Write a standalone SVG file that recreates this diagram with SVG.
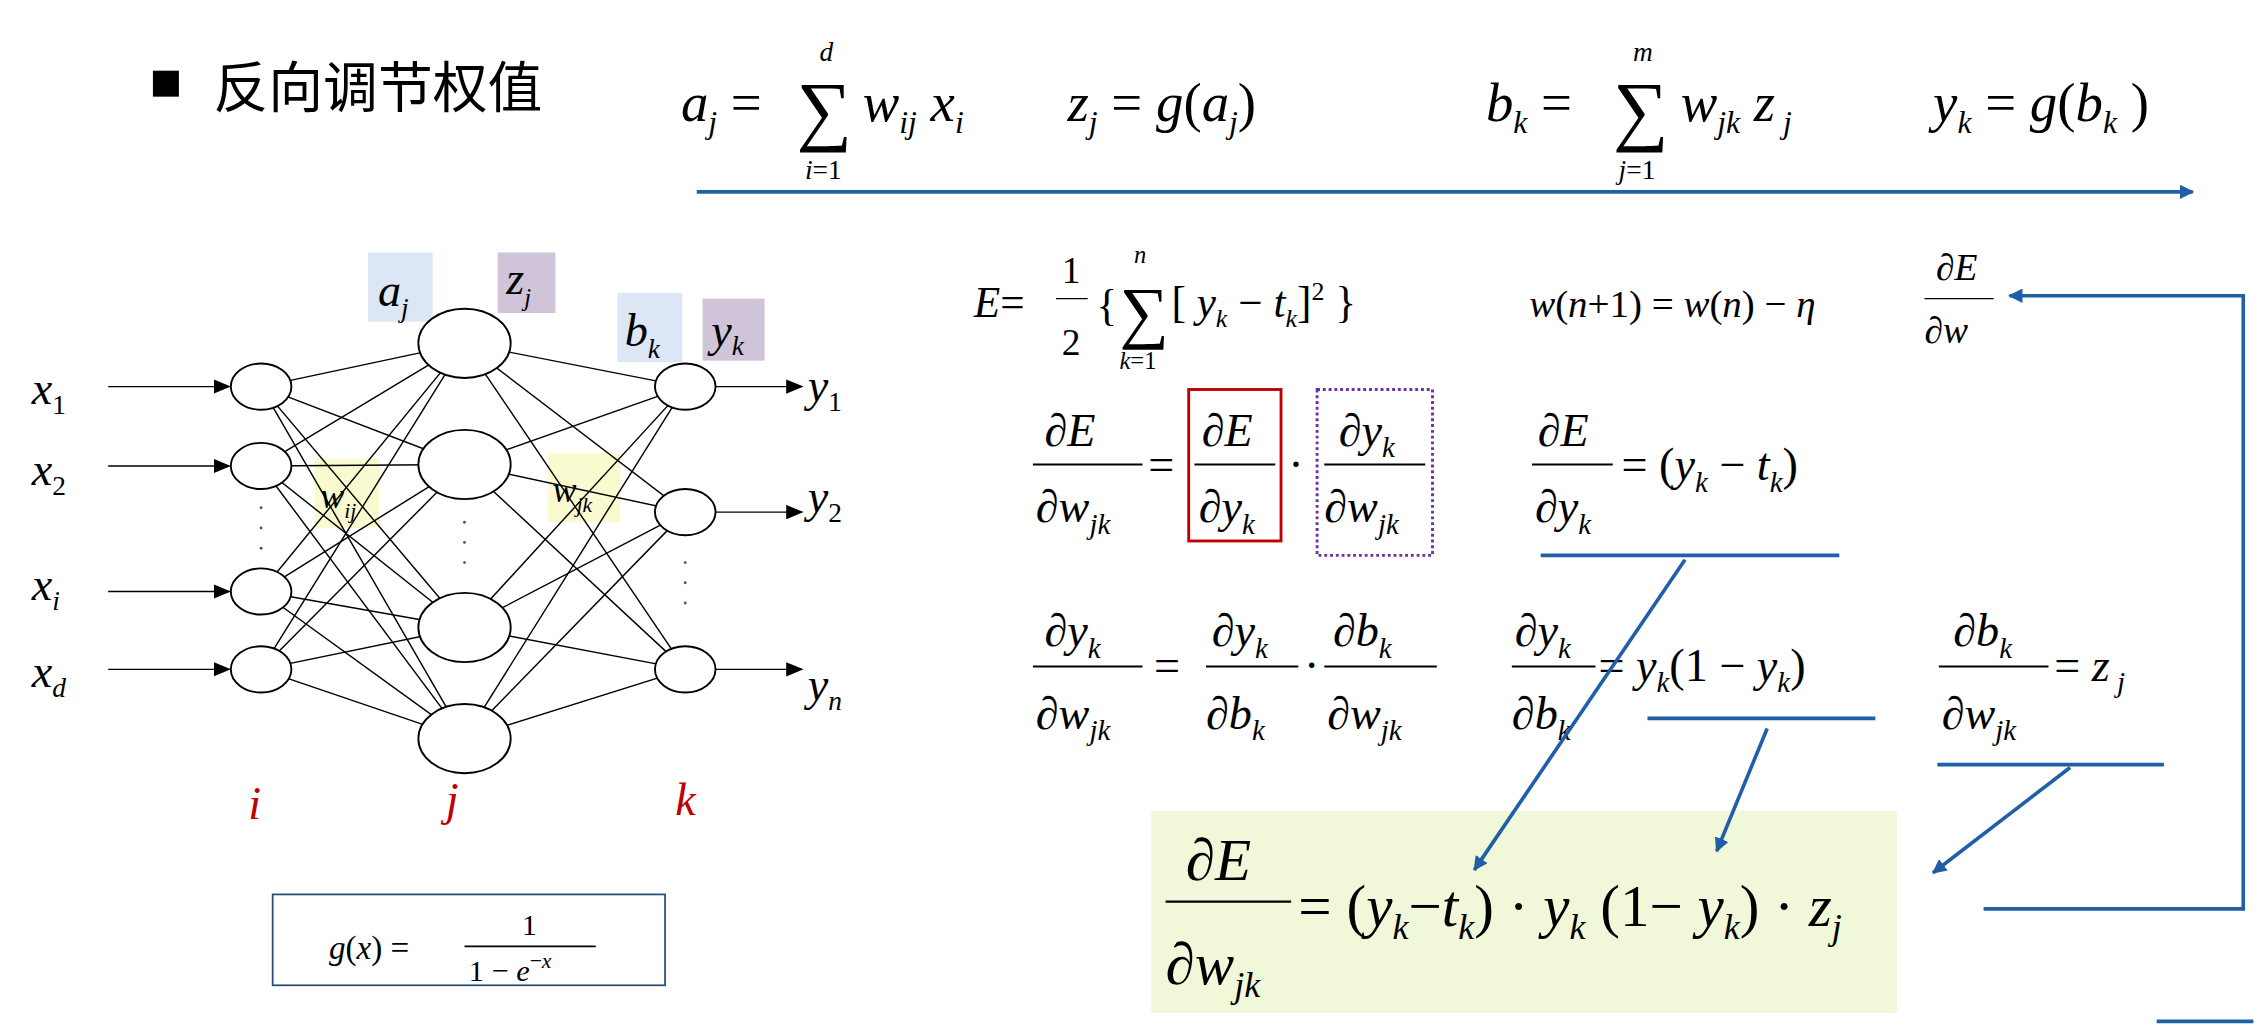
<svg xmlns="http://www.w3.org/2000/svg" width="2262" height="1026" viewBox="0 0 2262 1026">
<style>
.m{font-family:"Liberation Serif","Times New Roman",serif;font-style:italic;fill:#000}
.r{font-family:"Liberation Serif","Times New Roman",serif;font-style:normal;fill:#000}
.bl{stroke:#1f5fa8;stroke-width:2.5;fill:none}
.n{fill:#fff;stroke:#000;stroke-width:1.3}
.e{stroke:#000;stroke-width:1}
</style>
<defs>
<marker id="ab" markerWidth="10" markerHeight="10" refX="9" refY="5" orient="auto" markerUnits="userSpaceOnUse"><path d="M0,0 L10,5 L0,10 z" fill="#1f5fa8"/></marker>
<marker id="ak" markerWidth="12" markerHeight="10" refX="11" refY="5" orient="auto" markerUnits="userSpaceOnUse"><path d="M0,0 L12,5 L0,10 z" fill="#000"/></marker>
</defs>
<rect width="2262" height="1026" fill="#fff"/>
<g transform="scale(1.4426)">
<g id="title"><rect x="106" y="49" width="18" height="18" fill="#000"/><text x="148" y="74" font-size="38" font-family="Noto Sans CJK SC,sans-serif">反向调节权值</text></g>
<g id="top-eq" class="m" font-size="38">
<text x="472" y="84">a<tspan font-size="22" dy="8">j</tspan><tspan dy="-8" class="r"> = </tspan></text>
<text x="552" y="94" class="r" font-size="54">∑</text>
<text x="568" y="42" font-size="19">d</text><text x="558" y="124" font-size="19">i<tspan class="r">=1</tspan></text>
<text x="598" y="84">w<tspan font-size="22" dy="8">ij</tspan><tspan dy="-8"> x</tspan><tspan font-size="22" dy="8">i</tspan></text>
<text x="740" y="84">z<tspan font-size="22" dy="8">j</tspan><tspan dy="-8" class="r"> = </tspan>g<tspan class="r">(</tspan>a<tspan font-size="22" dy="8">j</tspan><tspan dy="-8" class="r">)</tspan></text>
<text x="1030" y="84">b<tspan font-size="22" dy="8">k</tspan><tspan dy="-8" class="r"> = </tspan></text>
<text x="1118" y="94" class="r" font-size="54">∑</text>
<text x="1132" y="42" font-size="19">m</text><text x="1122" y="124" font-size="19">j<tspan class="r">=1</tspan></text>
<text x="1165" y="84">w<tspan font-size="22" dy="8">jk</tspan><tspan dy="-8"> z</tspan><tspan font-size="22" dy="8"> j</tspan></text>
<text x="1340" y="84">y<tspan font-size="22" dy="8">k</tspan><tspan dy="-8" class="r"> = </tspan>g<tspan class="r">(</tspan>b<tspan font-size="22" dy="8">k</tspan><tspan dy="-8" class="r"> )</tspan></text>
</g>
<g id="highlights">
<rect x="255" y="175" width="45" height="48" fill="#dce6f5"/>
<rect x="345" y="175" width="40" height="42" fill="#d0c4d8"/>
<rect x="428" y="203" width="45" height="48" fill="#dce6f5"/>
<rect x="487" y="207" width="43" height="43" fill="#d0c4d8"/>
<rect x="218" y="318" width="45" height="48" fill="#fafad0"/>
<rect x="380" y="314" width="50" height="48" fill="#fafad0"/>
</g>
<g id="edges" class="e">
<g id="e-ij">
<line x1="181" y1="268" x2="322" y2="238"/><line x1="181" y1="268" x2="322" y2="322"/><line x1="181" y1="268" x2="322" y2="435"/><line x1="181" y1="268" x2="322" y2="512"/>
<line x1="181" y1="323" x2="322" y2="238"/><line x1="181" y1="323" x2="322" y2="322"/><line x1="181" y1="323" x2="322" y2="435"/><line x1="181" y1="323" x2="322" y2="512"/>
<line x1="181" y1="410" x2="322" y2="238"/><line x1="181" y1="410" x2="322" y2="322"/><line x1="181" y1="410" x2="322" y2="435"/><line x1="181" y1="410" x2="322" y2="512"/>
<line x1="181" y1="464" x2="322" y2="238"/><line x1="181" y1="464" x2="322" y2="322"/><line x1="181" y1="464" x2="322" y2="435"/><line x1="181" y1="464" x2="322" y2="512"/>
</g>
<g id="e-jk">
<line x1="322" y1="238" x2="475" y2="268"/><line x1="322" y1="238" x2="475" y2="355"/><line x1="322" y1="238" x2="475" y2="464"/>
<line x1="322" y1="322" x2="475" y2="268"/><line x1="322" y1="322" x2="475" y2="355"/><line x1="322" y1="322" x2="475" y2="464"/>
<line x1="322" y1="435" x2="475" y2="268"/><line x1="322" y1="435" x2="475" y2="355"/><line x1="322" y1="435" x2="475" y2="464"/>
<line x1="322" y1="512" x2="475" y2="268"/><line x1="322" y1="512" x2="475" y2="355"/><line x1="322" y1="512" x2="475" y2="464"/>
</g>
<line x1="75" y1="268" x2="159" y2="268" marker-end="url(#ak)"/>
<line x1="75" y1="323" x2="159" y2="323" marker-end="url(#ak)"/>
<line x1="75" y1="410" x2="159" y2="410" marker-end="url(#ak)"/>
<line x1="75" y1="464" x2="159" y2="464" marker-end="url(#ak)"/>
<line x1="496" y1="268" x2="556" y2="268" marker-end="url(#ak)"/>
<line x1="496" y1="355" x2="556" y2="355" marker-end="url(#ak)"/>
<line x1="496" y1="464" x2="556" y2="464" marker-end="url(#ak)"/>
</g>
<g id="nodes">
<g id="ni1"><ellipse cx="181" cy="268" rx="21" ry="16" class="n"/></g>
<g id="ni2"><ellipse cx="181" cy="323" rx="21" ry="16" class="n"/></g>
<g id="ni3"><ellipse cx="181" cy="410" rx="21" ry="16" class="n"/></g>
<g id="ni4"><ellipse cx="181" cy="464" rx="21" ry="16" class="n"/></g>
<g id="nj1"><ellipse cx="322" cy="238" rx="32" ry="24" class="n"/></g>
<g id="nj2"><ellipse cx="322" cy="322" rx="32" ry="24" class="n"/></g>
<g id="nj3"><ellipse cx="322" cy="435" rx="32" ry="24" class="n"/></g>
<g id="nj4"><ellipse cx="322" cy="512" rx="32" ry="24" class="n"/></g>
<g id="nk1"><ellipse cx="475" cy="268" rx="21" ry="16" class="n"/></g>
<g id="nk2"><ellipse cx="475" cy="355" rx="21" ry="16" class="n"/></g>
<g id="nk3"><ellipse cx="475" cy="464" rx="21" ry="16" class="n"/></g>
</g>
<g id="dots" fill="#555"><circle cx="181" cy="352" r="1"/><circle cx="181" cy="366" r="1"/><circle cx="181" cy="380" r="1"/><circle cx="322" cy="362" r="1"/><circle cx="322" cy="376" r="1"/><circle cx="322" cy="390" r="1"/><circle cx="475" cy="390" r="1"/><circle cx="475" cy="404" r="1"/><circle cx="475" cy="418" r="1"/></g>
<g id="netlabels" class="m" font-size="32">
<text x="22" y="280">x<tspan font-size="19" dy="7" class="r">1</tspan></text>
<text x="22" y="336">x<tspan font-size="19" dy="7" class="r">2</tspan></text>
<text x="22" y="416">x<tspan font-size="19" dy="7">i</tspan></text>
<text x="22" y="476">x<tspan font-size="19" dy="7">d</tspan></text>
<text x="560" y="278">y<tspan font-size="19" dy="7" class="r">1</tspan></text>
<text x="560" y="355">y<tspan font-size="19" dy="7" class="r">2</tspan></text>
<text x="560" y="485">y<tspan font-size="19" dy="7">n</tspan></text>
<text x="262" y="212">a<tspan font-size="19" dy="8">j</tspan></text>
<text x="351" y="204">z<tspan font-size="17" dy="8">j</tspan></text>
<text x="433" y="240">b<tspan font-size="19" dy="8">k</tspan></text>
<text x="493" y="240">y<tspan font-size="19" dy="6">k</tspan></text>
<text x="222" y="352" font-size="25">w<tspan font-size="15" dy="7">ij</tspan></text>
<text x="383" y="348" font-size="25">w<tspan font-size="15" dy="7">jk</tspan></text>
<text x="172" y="568" style="fill:#c00000">i</text>
<text x="309" y="565" style="fill:#c00000">j</text>
<text x="468" y="565" style="fill:#c00000">k</text>
</g>
<g id="gbox"><rect x="189" y="620" width="272" height="63" fill="#fff" stroke="#1f4e79" stroke-width="1.2"/>
<text x="228" y="665" font-size="23" class="m">g<tspan class="r">(</tspan>x<tspan class="r">) =</tspan></text>
<line x1="322" y1="656" x2="413" y2="656" stroke="#000" stroke-width="1.2"/>
<text x="367" y="648" font-size="21" class="r" text-anchor="middle">1</text>
<text x="325" y="680" font-size="21" class="r">1 − <tspan class="m">e</tspan><tspan font-size="15" dy="-9">−<tspan font-style="italic">x</tspan></tspan></text>
</g>
<g id="eqE" class="m" font-size="30">
<text x="675" y="220">E<tspan class="r">=</tspan></text>
<text x="736" y="196" class="r" font-size="26">1</text><line x1="732" y1="207" x2="754" y2="207" stroke="#000"/><text x="736" y="246" class="r" font-size="26">2</text>
<text x="760" y="222" class="r">{</text><text x="776" y="232" class="r" font-size="48">∑</text>
<text x="786" y="182" font-size="17">n</text><text x="776" y="256" font-size="17">k<tspan class="r">=1</tspan></text>
<text x="812" y="220"><tspan class="r">[</tspan> y<tspan font-size="18" dy="7">k</tspan><tspan dy="-7" class="r"> − </tspan>t<tspan font-size="18" dy="7">k</tspan><tspan dy="-7" class="r">]</tspan><tspan font-size="18" dy="-12" class="r">2</tspan><tspan dy="12" class="r"> }</tspan></text>
<text x="1060" y="220" font-size="27">w<tspan class="r">(</tspan>n<tspan class="r">+1) = </tspan>w<tspan class="r">(</tspan>n<tspan class="r">) − </tspan>η</text>
<text x="1342" y="194" font-size="26">∂E</text><line x1="1334" y1="207" x2="1382" y2="207" stroke="#000"/><text x="1334" y="238" font-size="26">∂w</text>
</g>
<g id="eq2" class="m" font-size="32">
<text x="724" y="309">∂E</text><line x1="716" y1="322" x2="792" y2="322" stroke="#000" stroke-width="1.3"/><text x="718" y="362">∂w<tspan font-size="20" dy="8">jk</tspan></text>
<text x="796" y="333" class="r">=</text>
<rect x="824" y="270" width="64" height="105" fill="none" stroke="#c00000" stroke-width="2"/>
<text x="833" y="309">∂E</text><line x1="828" y1="322" x2="884" y2="322" stroke="#000" stroke-width="1.3"/><text x="831" y="362">∂y<tspan font-size="20" dy="8">k</tspan></text>
<text x="893" y="333" class="r">·</text>
<rect x="913" y="270" width="80" height="115" fill="none" stroke="#7030a0" stroke-width="2" stroke-dasharray="2,2"/>
<text x="928" y="309">∂y<tspan font-size="20" dy="8">k</tspan></text><line x1="918" y1="322" x2="988" y2="322" stroke="#000" stroke-width="1.3"/><text x="918" y="362">∂w<tspan font-size="20" dy="8">jk</tspan></text>
<text x="1066" y="309">∂E</text><line x1="1062" y1="322" x2="1118" y2="322" stroke="#000" stroke-width="1.3"/><text x="1064" y="362">∂y<tspan font-size="20" dy="8">k</tspan></text>
<text x="1124" y="333"><tspan class="r">= (</tspan>y<tspan font-size="20" dy="8">k</tspan><tspan dy="-8" class="r"> − </tspan>t<tspan font-size="20" dy="8">k</tspan><tspan dy="-8" class="r">)</tspan></text>
</g>
<g id="eq3" class="m" font-size="32">
<text x="724" y="448">∂y<tspan font-size="20" dy="8">k</tspan></text><line x1="716" y1="462" x2="792" y2="462" stroke="#000" stroke-width="1.3"/><text x="718" y="505">∂w<tspan font-size="20" dy="8">jk</tspan></text>
<text x="800" y="472" class="r">=</text>
<text x="840" y="448">∂y<tspan font-size="20" dy="8">k</tspan></text><line x1="836" y1="462" x2="900" y2="462" stroke="#000" stroke-width="1.3"/><text x="836" y="505">∂b<tspan font-size="20" dy="8">k</tspan></text>
<text x="904" y="472" class="r">·</text>
<text x="924" y="448">∂b<tspan font-size="20" dy="8">k</tspan></text><line x1="918" y1="462" x2="996" y2="462" stroke="#000" stroke-width="1.3"/><text x="920" y="505">∂w<tspan font-size="20" dy="8">jk</tspan></text>
<text x="1050" y="448">∂y<tspan font-size="20" dy="8">k</tspan></text><line x1="1048" y1="462" x2="1106" y2="462" stroke="#000" stroke-width="1.3"/><text x="1048" y="505">∂b<tspan font-size="20" dy="8">k</tspan></text>
<text x="1108" y="472"><tspan class="r">= </tspan>y<tspan font-size="20" dy="8">k</tspan><tspan dy="-8" class="r">(1 − </tspan>y<tspan font-size="20" dy="8">k</tspan><tspan dy="-8" class="r">)</tspan></text>
<text x="1354" y="448">∂b<tspan font-size="20" dy="8">k</tspan></text><line x1="1344" y1="462" x2="1420" y2="462" stroke="#000" stroke-width="1.3"/><text x="1346" y="505">∂w<tspan font-size="20" dy="8">jk</tspan></text>
<text x="1424" y="472"><tspan class="r">= </tspan>z<tspan font-size="20" dy="8"> j</tspan></text>
</g>
<g id="result">
<rect x="798" y="562" width="517" height="140" fill="#f1f7d9"/>
<g class="m" font-size="41">
<text x="822" y="610">∂E</text><line x1="808" y1="625" x2="895" y2="625" stroke="#000" stroke-width="1.5"/><text x="808" y="682">∂w<tspan font-size="25" dy="9">jk</tspan></text>
<text x="900" y="642"><tspan class="r">= (</tspan>y<tspan font-size="25" dy="9">k</tspan><tspan dy="-9" class="r">−</tspan>t<tspan font-size="25" dy="9">k</tspan><tspan dy="-9" class="r">) · </tspan>y<tspan font-size="25" dy="9">k</tspan><tspan dy="-9" class="r"> (1− </tspan>y<tspan font-size="25" dy="9">k</tspan><tspan dy="-9" class="r">) · </tspan>z<tspan font-size="25" dy="9">j</tspan></text>
</g>
</g>
<g id="connectors">
<line x1="483" y1="133" x2="1520" y2="133" class="bl" marker-end="url(#ab)"/>
<line x1="1068" y1="385" x2="1275" y2="385" class="bl"/>
<line x1="1142" y1="498" x2="1300" y2="498" class="bl"/>
<line x1="1343" y1="530" x2="1500" y2="530" class="bl"/>
<line x1="1168" y1="388" x2="1022" y2="603" class="bl" stroke-width="2" marker-end="url(#ab)"/>
<line x1="1225" y1="505" x2="1190" y2="590" class="bl" stroke-width="2" marker-end="url(#ab)"/>
<line x1="1435" y1="532" x2="1340" y2="605" class="bl" stroke-width="2" marker-end="url(#ab)"/>
<polyline points="1375,630 1555,630 1555,205 1393,205" class="bl" marker-end="url(#ab)"/>
<line x1="1495" y1="708" x2="1562" y2="708" class="bl" stroke-width="3"/>
</g>
</g>
</svg>
